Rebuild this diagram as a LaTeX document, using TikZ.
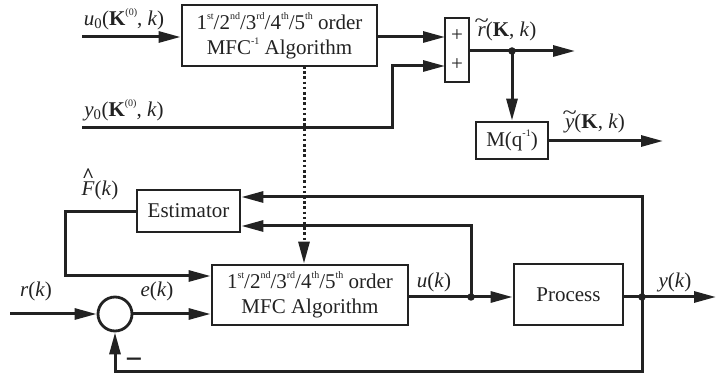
\documentclass[tikz,border=0pt]{standalone}
\usepackage{fontspec}
\setmainfont{Liberation Serif}
\usetikzlibrary{arrows.meta,calc}
\definecolor{ink}{HTML}{222222}
\newcommand\supx[1]{\raisebox{0.46em}{\fontsize{10}{10}\selectfont #1}}
\newcommand\tildeacc[1]{{\ooalign{#1\cr\hidewidth\raisebox{0.42em}{\scalebox{1.25}[1]{\textasciitilde}}\hidewidth\cr}}}
\newcommand\hatacc[1]{{\ooalign{#1\cr\hidewidth\raisebox{0.62em}{\textbf{\textasciicircum}}\hidewidth\cr}}}
\begin{document}
\begin{tikzpicture}[x=1pt,y=-1pt,
  blk/.style={draw=ink, line width=2.8pt, inner sep=0pt, align=center, text=ink,
              font=\fontsize{21}{25}\selectfont},
  wire/.style={draw=ink, line width=3pt},
  arr/.style={wire, -{Triangle[length=22pt,width=11pt]}},
  lbl/.style={font=\fontsize{21}{24}\selectfont, text=ink, inner sep=0pt},
  dotn/.style={circle, fill=ink, inner sep=0pt, minimum size=7.5pt},
  dotted line/.style={draw=ink, line width=3pt, dash pattern=on 2.6pt off 2.6pt}]
\useasboundingbox (0,0) rectangle (716,374);

% blocks
\node[blk, minimum width=195pt, minimum height=61pt] (inv) at (279.5,35.5)
  {1\supx{st}/2\supx{nd}/3\supx{rd}/4\supx{th}/5\supx{th} order\\MFC\supx{-1} Algorithm};
\node[blk, minimum width=24pt, minimum height=64pt, font=\fontsize{21}{29}\selectfont] (sum) at (457,50) {+\\+};
\node[blk, minimum width=72pt, minimum height=37pt] (M) at (512,140.5) {M(q\supx{-1})};
\node[blk, minimum width=103pt, minimum height=42pt] (est) at (188.5,211) {Estimator};
\node[blk, minimum width=196pt, minimum height=60pt] (mfc) at (310,295)
  {1\supx{st}/2\supx{nd}/3\supx{rd}/4\supx{th}/5\supx{th} order\\MFC Algorithm};
\node[blk, minimum width=109pt, minimum height=61pt] (proc) at (568.5,294.5) {Process};
\node[draw=ink, line width=2.8pt, circle, minimum size=34pt, inner sep=0pt] (cmp) at (115,314) {};

% coordinates
\coordinate (u0in) at (82,37);
\coordinate (y0in) at (82,128);
\coordinate (y0c) at (392,128);
\coordinate (p1) at (445,37);
\coordinate (p2) at (445,66);
\coordinate (rout) at (575,51);
\coordinate (yout) at (663,141);
\coordinate (fl) at (65,212);
\coordinate (fm) at (65,276);
\coordinate (dtop) at (304,66);
\coordinate (rin) at (10,314);
\coordinate (uy) at (0,297);
\coordinate (e1) at (0,197);
\coordinate (e2) at (0,226);
\coordinate (fb) at (0,372);
\coordinate (youtk) at (716,297);

% junctions
\node[dotn] (jr) at (512,51) {};
\node[dotn] (ju) at (471,297) {};
\node[dotn] (jy) at (642,297) {};

% connectors
\draw[arr] (u0in) -- (u0in -| inv.west);
\draw[arr] (inv.east |- p1) -- (p1);
\draw[arr] (y0in) -- (y0c) |- (p2);
\draw[arr] (sum.east |- rout) -- (rout);
\draw[arr] (jr.center) -- (M.north);
\draw[arr] (M.east |- yout) -- (yout);
\draw[arr] (est.west |- fl) -- (fl) -- (fm) -- (fm -| mfc.west);
\draw[dotted line, -{Triangle[length=22pt,width=11pt]}] (dtop) -- (dtop |- mfc.north);
\draw[arr] (rin) -- (cmp.west);
\draw[arr] (cmp.east) -- (cmp.east -| mfc.west);
\draw[wire] (mfc.east |- uy) -- (ju.center);
\draw[arr] (ju.center) -- (ju -| proc.west);
\draw[arr] (ju.center) -- (ju |- e2) -- (e2 -| est.east);
\draw[wire] (proc.east |- uy) -- (jy.center);
\draw[arr] (jy.center) -- (youtk);
\draw[arr] (jy.center) -- (jy |- e1) -- (e1 -| est.east);
\draw[arr] (jy.center) -- (jy |- fb) -- (fb -| cmp.south) -- (cmp.south);

% labels
\node[lbl] (lu0) at (124,19) {\textit{u}\textsubscript{0}(\textbf{K}\supx{(0)}, \textit{k})};
\node[lbl] (ly0) at (124,110) {\textit{y}\textsubscript{0}(\textbf{K}\supx{(0)}, \textit{k})};
\node[lbl] (lr) at (507,31) {\tildeacc{\textit{r}}(\textbf{K}, \textit{k})};
\node[lbl] (ly) at (595,123) {\tildeacc{\textit{y}}(\textbf{K}, \textit{k})};
\node[lbl] (lf) at (100,190) {\hatacc{\textit{F}}(\textit{k})};
\node[lbl] (lrk) at (36,291) {\textit{r}(\textit{k})};
\node[lbl] (lek) at (157,291) {\textit{e}(\textit{k})};
\node[lbl] (luk) at (434,282) {\textit{u}(\textit{k})};
\node[lbl] (lyk) at (675,282) {\textit{y}(\textit{k})};
\node[lbl] (minus) at (134,362) {\textbf{\scalebox{1.3}[1.5]{--}}};
\end{tikzpicture}
\end{document}
